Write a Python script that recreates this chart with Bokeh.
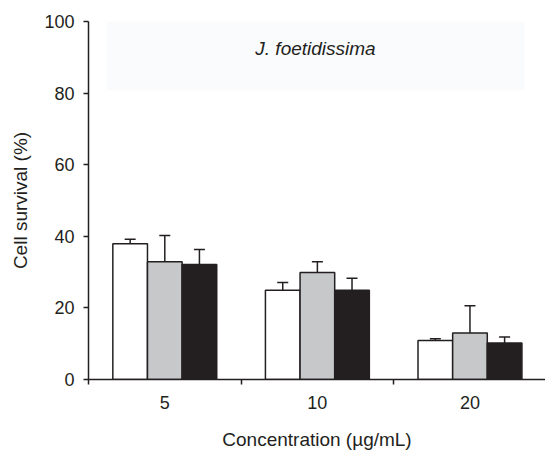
from bokeh.plotting import figure
from bokeh.models import ColumnDataSource, Range1d, FixedTicker, Whisker, TeeHead, BoxAnnotation, Label
from bokeh.embed import file_html
from bokeh.resources import INLINE

concentrations = ["5", "10", "20"]
series_names = ["A", "B", "C"]
white_vals = [37.9, 24.9, 10.9]
white_err = [1.3, 2.2, 0.5]
gray_vals = [32.9, 29.9, 13.0]
gray_err = [7.3, 3.0, 7.6]
black_vals = [32.1, 24.9, 10.2]
black_err = [4.2, 3.4, 1.7]
y_ticks = [0, 20, 40, 60, 80, 100]

FONT = "Liberation Sans"
n = len(concentrations)
bar_w = 0.227
offsets = [-bar_w, 0.0, bar_w]
fills = ["#ffffff", "#c7c8ca", "#231f20"]

p = figure(width=545, height=452, output_backend="svg", toolbar_location=None,
           x_range=Range1d(0, 2.995), y_range=Range1d(0, 100),
           min_border_left=88, min_border_right=0, min_border_top=21, min_border_bottom=71)
p.outline_line_color = None
p.grid.visible = False
p.background_fill_color = "white"

p.add_layout(BoxAnnotation(left=0.12, right=2.857, top=100, bottom=80.8,
                           fill_color="#fafbfd", fill_alpha=1.0, line_color=None, level="underlay"))

for vals, errs, off, col in zip([white_vals, gray_vals, black_vals],
                                [white_err, gray_err, black_err], offsets, fills):
    xs = [i + 0.5 + off for i in range(n)]
    src = ColumnDataSource(dict(x=xs, top=vals, up=[v + e for v, e in zip(vals, errs)]))
    p.add_layout(Whisker(source=src, base="x", lower="top", upper="up",
                         line_color="#231f20", line_width=1.5, lower_head=None,
                         upper_head=TeeHead(size=11, line_color="#231f20", line_width=1.5)))
    p.vbar(x="x", top="top", bottom=0, width=bar_w, source=src,
           fill_color=col, line_color="#231f20", line_width=1.5)

p.add_layout(Label(x=315 - 88, y=452 - 50 - 71, x_units="screen", y_units="screen",
                   text="J. foetidissima", text_font=FONT, text_font_style="italic",
                   text_font_size="19px", text_align="center", text_baseline="middle",
                   text_color="#231f20"))

xa = p.xaxis[0]
xa.ticker = FixedTicker(ticks=[i + 0.5 for i in range(n)], minor_ticks=list(range(n + 1)))
xa.major_label_overrides = {i + 0.5: c for i, c in enumerate(concentrations)}
xa.major_tick_out = 0
xa.major_tick_in = 0
xa.minor_tick_out = 5
xa.minor_tick_in = 0
xa.minor_tick_line_color = "#231f20"
xa.minor_tick_line_width = 1.5
xa.axis_label = "Concentration (µg/mL)"
xa.major_label_standoff = 11
xa.axis_label_standoff = 17

ya = p.yaxis[0]
ya.ticker = FixedTicker(ticks=y_ticks, minor_ticks=[])
ya.major_tick_out = 5
ya.major_tick_in = 0
ya.axis_label = "Cell survival (%)"
ya.major_label_standoff = 9
ya.axis_label_standoff = 10

for ax in (xa, ya):
    ax.axis_line_color = "#231f20"
    ax.axis_line_width = 1.5
    ax.major_tick_line_color = "#231f20"
    ax.major_tick_line_width = 1.5
    ax.major_label_text_font = FONT
    ax.major_label_text_font_size = "18px"
    ax.major_label_text_color = "#231f20"
    ax.axis_label_text_font = FONT
    ax.axis_label_text_font_size = "19px"
    ax.axis_label_text_font_style = "normal"
    ax.axis_label_text_color = "#231f20"

open("out.html", "w").write(file_html(p, INLINE))
